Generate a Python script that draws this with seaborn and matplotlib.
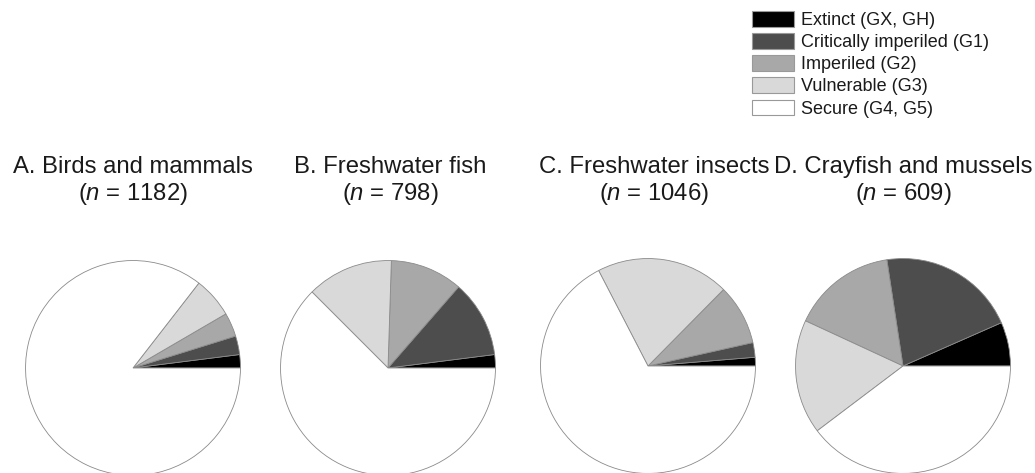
import numpy as np
import matplotlib
matplotlib.use("Agg")
import matplotlib.pyplot as plt
import matplotlib.patches as mpatches
import seaborn as sns

# status categories, drawn counter-clockwise from 3 o'clock
categories = ["Extinct (GX, GH)", "Critically imperiled (G1)", "Imperiled (G2)",
              "Vulnerable (G3)", "Secure (G4, G5)"]
status_colors = ["#000000", "#4d4d4d", "#a8a8a8", "#d9d9d9", "#ffffff"]

# percent of taxa in each status
birds_mammals = [2.0, 2.8, 3.6, 6.1, 85.5]
freshwater_fish = [2.0, 11.6, 10.9, 13.0, 62.5]
freshwater_insects = [1.3, 2.2, 9.1, 20.0, 67.4]
crayfish_mussels = [6.6, 20.8, 15.7, 17.2, 39.7]

panel_titles = ["A. Birds and mammals", "B. Freshwater fish",
                "C. Freshwater insects", "D. Crayfish and mussels"]
panel_n = [1182, 798, 1046, 609]

sns.set_theme(style="white")
plt.rcParams["font.family"] = ["Liberation Sans", "DejaVu Sans"]
plt.rcParams["mathtext.fontset"] = "custom"
plt.rcParams["mathtext.it"] = "Liberation Sans:italic"
plt.rcParams["mathtext.rm"] = "Liberation Sans"

W, H = 1035, 473
fig = plt.figure(figsize=(W / 100, H / 100), dpi=100)
fig.patch.set_facecolor("white")

series = [birds_mammals, freshwater_fish, freshwater_insects, crayfish_mussels]
centers = [(133, 368), (388, 368), (648, 366), (903, 366)]
title_x = [133, 390, 654, 903]
r = 108

for vals, (cx, cy), title, n, tx in zip(series, centers, panel_titles, panel_n, title_x):
    ax = fig.add_axes([(cx - r) / W, 1 - (cy + r) / H, 2 * r / W, 2 * r / H])
    ax.pie(vals, colors=status_colors, startangle=0, counterclock=True,
           radius=1, wedgeprops=dict(edgecolor="#8a8a8a", linewidth=0.6))
    ax.set_xlim(-1.005, 1.005)
    ax.set_ylim(-1.005, 1.005)
    ax.set_aspect("equal")
    ax.axis("off")
    fig.text(tx / W, 1 - 173 / H, title, ha="center", va="baseline",
             fontsize=17.2, color="#1a1a1a")
    fig.text(tx / W, 1 - 200 / H, "($n$ = %d)" % n, ha="center", va="baseline",
             fontsize=17.2, color="#1a1a1a")

handles = [mpatches.Patch(facecolor=c, edgecolor="#999999", linewidth=0.8, label=l)
           for c, l in zip(status_colors, categories)]
fig.legend(handles=handles, loc="upper left", bbox_to_anchor=(752 / W, 1 - 11 / H),
           frameon=False, fontsize=13, handlelength=2.3, handleheight=0.95,
           handletextpad=0.4, labelspacing=0.23, borderpad=0, borderaxespad=0,
           labelcolor="#1a1a1a")

fig.savefig("out.png", dpi=100, facecolor="white")
